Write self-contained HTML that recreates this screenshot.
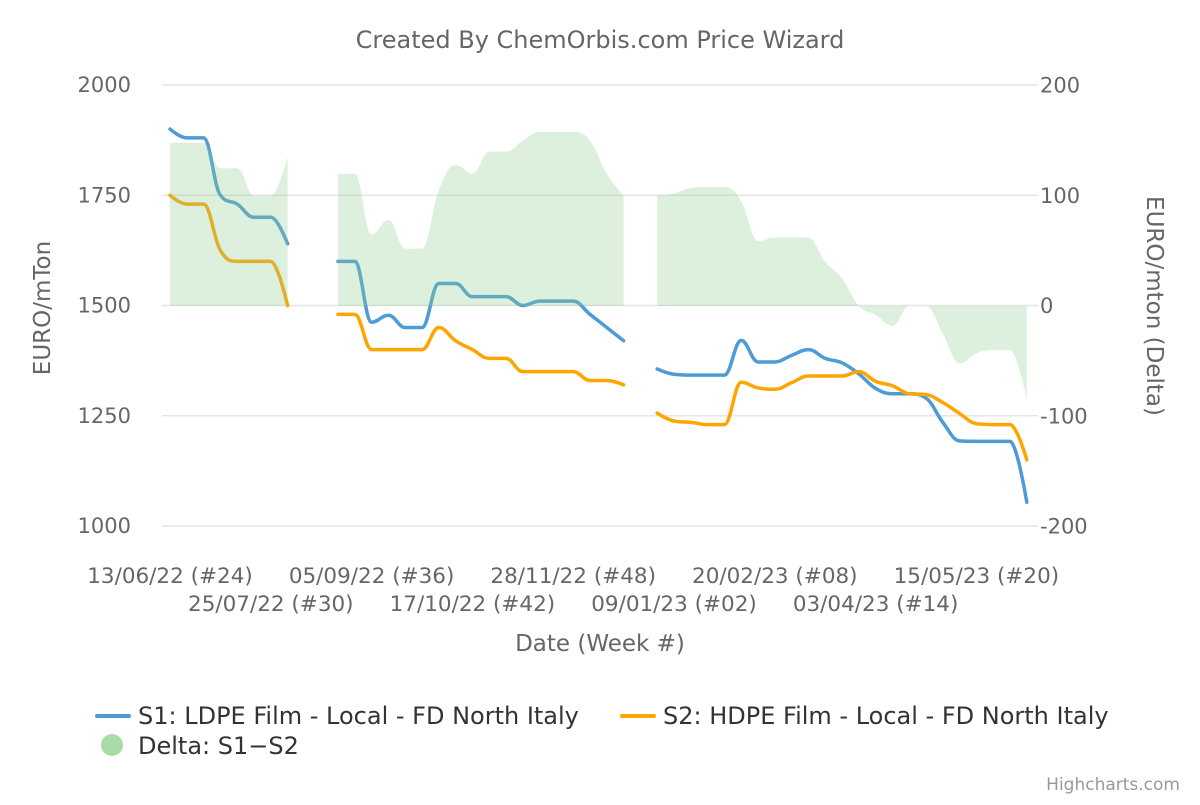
<!DOCTYPE html>
<html><head><meta charset="utf-8"><style>
html,body{margin:0;padding:0;background:#fff;}
svg text{font-family:"DejaVu Sans","Liberation Sans",sans-serif;}
</style></head><body>
<svg id="chart" width="1200" height="800" xmlns="http://www.w3.org/2000/svg">
<rect width="1200" height="800" fill="#fff"/>
<text x="600" y="48" text-anchor="middle" font-size="24" fill="#666">Created By ChemOrbis.com Price Wizard</text>
<g id="grid"></g>
<g id="series"></g>
<g id="axes"></g>
<text x="600" y="651" text-anchor="middle" font-size="23" fill="#666">Date (Week #)</text>
<text transform="translate(50,308) rotate(-90)" text-anchor="middle" font-size="23" fill="#666">EURO/mTon</text>
<text transform="translate(1147,306) rotate(90)" text-anchor="middle" font-size="23" fill="#666">EURO/mton (Delta)</text>
<g>
<line x1="97" y1="716" x2="129" y2="716" stroke="#4e9bd6" stroke-width="4" stroke-linecap="round"/>
<text x="138" y="724" font-size="24" fill="#333">S1: LDPE Film - Local - FD North Italy</text></g>
<g>
<line x1="622" y1="716" x2="654" y2="716" stroke="#ffa500" stroke-width="4" stroke-linecap="round"/>
<text x="663" y="724" font-size="24" fill="#333">S2: HDPE Film - Local - FD North Italy</text></g>
<g>
<circle cx="112" cy="745" r="11" fill="#a8dca5"/>
<text x="138" y="754" font-size="24" fill="#333">Delta: S1−S2</text></g>
<text x="1180" y="790" text-anchor="end" font-size="17" fill="#999">Highcharts.com</text>
</svg>
<script>
const s1 = [1900,1880,1880,1750,1730,1700,1700,1640,null,null,
1600,1600,1462,1478,1450,1450,1550,1550,1520,1520,1520,1500,1510,1510,1510,1480,1450,1420,null,
1356,1344,1342,1342,1342,1421,1372,1372,1387,1400,1380,1370,1345,1312,1300,1300,1290,1235,1193,1192,1192,1192,1054];
const s2 = [1750,1730,1730,1625,1600,1600,1600,1500,null,null,
1480,1480,1400,1400,1400,1400,1450,1420,1400,1380,1380,1350,1350,1350,1350,1330,1330,1320,null,
1256,1238,1235,1230,1230,1326,1313,1310,1325,1340,1340,1340,1350,1328,1318,1300,1298,1280,1255,1232,1230,1230,1150];
const delta = [148,148,148,125,125,100,100,135,null,null,
120,120,65,78,52,52,105,128,120,140,140,150,158,158,158,150,120,100,null,
100,102,107,108,108,95,59,62,62,62,40,25,0,-8,-18,0,0,-25,-52,-43,-40,-40,-85];
const xTickLabels = ["13/06/22 (#24)","25/07/22 (#30)","05/09/22 (#36)","17/10/22 (#42)","28/11/22 (#48)","09/01/23 (#02)","20/02/23 (#08)","03/04/23 (#14)","15/05/23 (#20)"];
const leftTicks = [1000,1250,1500,1750,2000];
const rightTicks = [-200,-100,0,100,200];

const NS="http://www.w3.org/2000/svg";
const X0=170, DX=16.8;
const xs=i=>X0+i*DX;
const yL=v=>85+(2000-v)*(441/1000);
const yR=v=>306-v*(441/400);
function mk(tag,attrs,parent){const e=document.createElementNS(NS,tag);for(const k in attrs)e.setAttribute(k,attrs[k]);parent.appendChild(e);return e;}
const grid=document.getElementById('grid'),axes=document.getElementById('axes'),ser=document.getElementById('series');
leftTicks.forEach((t,i)=>{
 const g=mk('line',{x1:162,x2:1038,y1:yL(t),y2:yL(t),stroke:'#e6e6e6','stroke-width':1.5},grid);
 
 
 const tl=mk('text',{x:131,y:yL(t)+7,'text-anchor':'end','font-size':21,fill:'#666'},axes);
 tl.textContent=t;
 
 
});
rightTicks.forEach(t=>{
 const tl=mk('text',{x:1040,y:yR(t)+7,'font-size':21,fill:'#666'},axes);
 tl.textContent=t;
 
 
});
xTickLabels.forEach((s,i)=>{
 const tl=mk('text',{x:xs(i*6),y:i%2?611:583,'text-anchor':'middle','font-size':21.5,fill:'#666'},axes);
 tl.textContent=s;
 
 
});
function segments(arr,yf){const segs=[];let cur=[];arr.forEach((v,i)=>{if(v==null){if(cur.length)segs.push(cur);cur=[];}else cur.push([xs(i),yf(v)]);});if(cur.length)segs.push(cur);return segs;}
function spline(pts){
 const n=pts.length;const L=[],R=[];
 for(let i=0;i<n;i++){
  const [x,y]=pts[i];
  if(i==0||i==n-1){L.push([x,y]);R.push([x,y]);continue;}
  const [lx,ly]=pts[i-1],[nx,ny]=pts[i+1];
  let lcx=(1.5*x+lx)/2.5,lcy=(1.5*y+ly)/2.5,rcx=(1.5*x+nx)/2.5,rcy=(1.5*y+ny)/2.5;
  if(rcx!==lcx){const c=((rcy-lcy)*(rcx-x))/(rcx-lcx)+y-rcy;lcy+=c;rcy+=c;}
  if(lcy>ly&&lcy>y){lcy=Math.max(ly,y);rcy=2*y-lcy;}else if(lcy<ly&&lcy<y){lcy=Math.min(ly,y);rcy=2*y-lcy;}
  if(rcy>ny&&rcy>y){rcy=Math.max(ny,y);lcy=2*y-rcy;}else if(rcy<ny&&rcy<y){rcy=Math.min(ny,y);lcy=2*y-rcy;}
  L.push([lcx,lcy]);R.push([rcx,rcy]);
 }
 let d='M'+pts[0][0]+' '+pts[0][1];
 for(let i=1;i<n;i++)d+=` C${R[i-1][0]} ${R[i-1][1]} ${L[i][0]} ${L[i][1]} ${pts[i][0]} ${pts[i][1]}`;
 return d;
}
segments(s1,yL).forEach(p=>{const e=mk('path',{d:spline(p),fill:'none',stroke:'#4e9bd6','stroke-width':3.5,'stroke-linejoin':'round','stroke-linecap':'round'},ser);
 
 });
segments(s2,yL).forEach(p=>{const e=mk('path',{d:spline(p),fill:'none',stroke:'#ffa500','stroke-width':3.5,'stroke-linejoin':'round','stroke-linecap':'round'},ser);
 
 });
segments(delta,yR).forEach(p=>{const d=spline(p)+` L${p[p.length-1][0]} ${yR(0)} L${p[0][0]} ${yR(0)} Z`;
 const e=mk('path',{d:d,fill:'rgb(144,205,144)','fill-opacity':0.3,stroke:'none'},ser);
 
 });
</script>
</body></html>
